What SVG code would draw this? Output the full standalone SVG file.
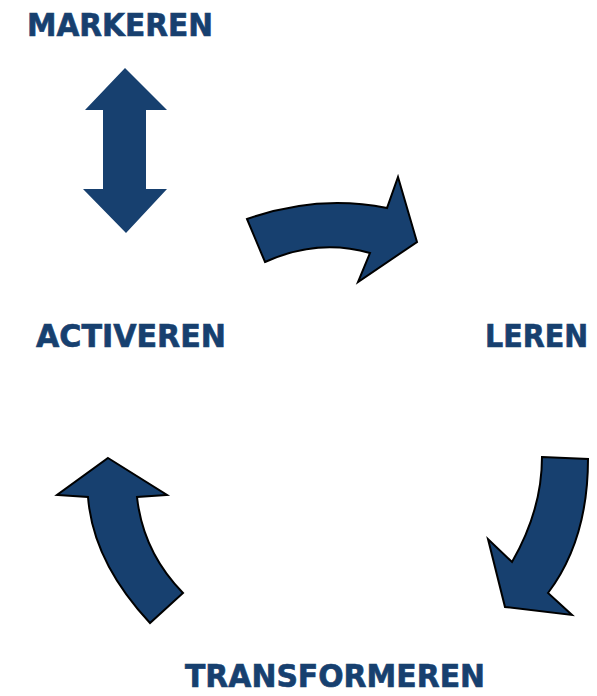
<svg xmlns="http://www.w3.org/2000/svg" width="597" height="696" viewBox="0 0 597 696">
<style>
.lbl{font-family:"DejaVu Sans Condensed","DejaVu Sans",sans-serif;font-stretch:condensed;font-weight:bold;font-size:32px;fill:#17406f;stroke:#17406f;stroke-width:0.6}
.arr{fill:#17406f;stroke:#000;stroke-width:2;stroke-linejoin:miter}
.dbl{fill:#17406f}
</style>
<rect width="597" height="696" fill="#fff"/>
<g id="markeren"><text class="lbl" x="27" y="36" textLength="186" lengthAdjust="spacingAndGlyphs">MARKEREN</text></g>
<g id="activeren"><text class="lbl" x="36" y="347" textLength="190" lengthAdjust="spacingAndGlyphs">ACTIVEREN</text></g>
<g id="leren"><text class="lbl" x="485" y="347" textLength="103" lengthAdjust="spacingAndGlyphs">LEREN</text></g>
<g id="transformeren"><text class="lbl" x="185" y="687" textLength="300" lengthAdjust="spacingAndGlyphs">TRANSFORMEREN</text></g>
<g id="connectors">
<path class="dbl" d="M125,68 L167,110 L146,110 L146,189 L167,189 L126,233 L83,189 L103,189 L103,110 L85,110 Z"/>
<path class="arr" d="M247,219 Q318,194 387,208 L398,177 L417,242 L358,282 L370,253 Q318,238 265,262 Z"/>
<path class="arr" d="M542,457 L588,459 Q588,540 548,593 L572,615 L505,607 L488,539 L512,562 Q542,510 542,457 Z"/>
<path class="arr" d="M108,458 L167,495 L137,497 Q143,552 183,593 L150,623 Q93,562 88,497 L57,495 Z"/>
</g>
</svg>
